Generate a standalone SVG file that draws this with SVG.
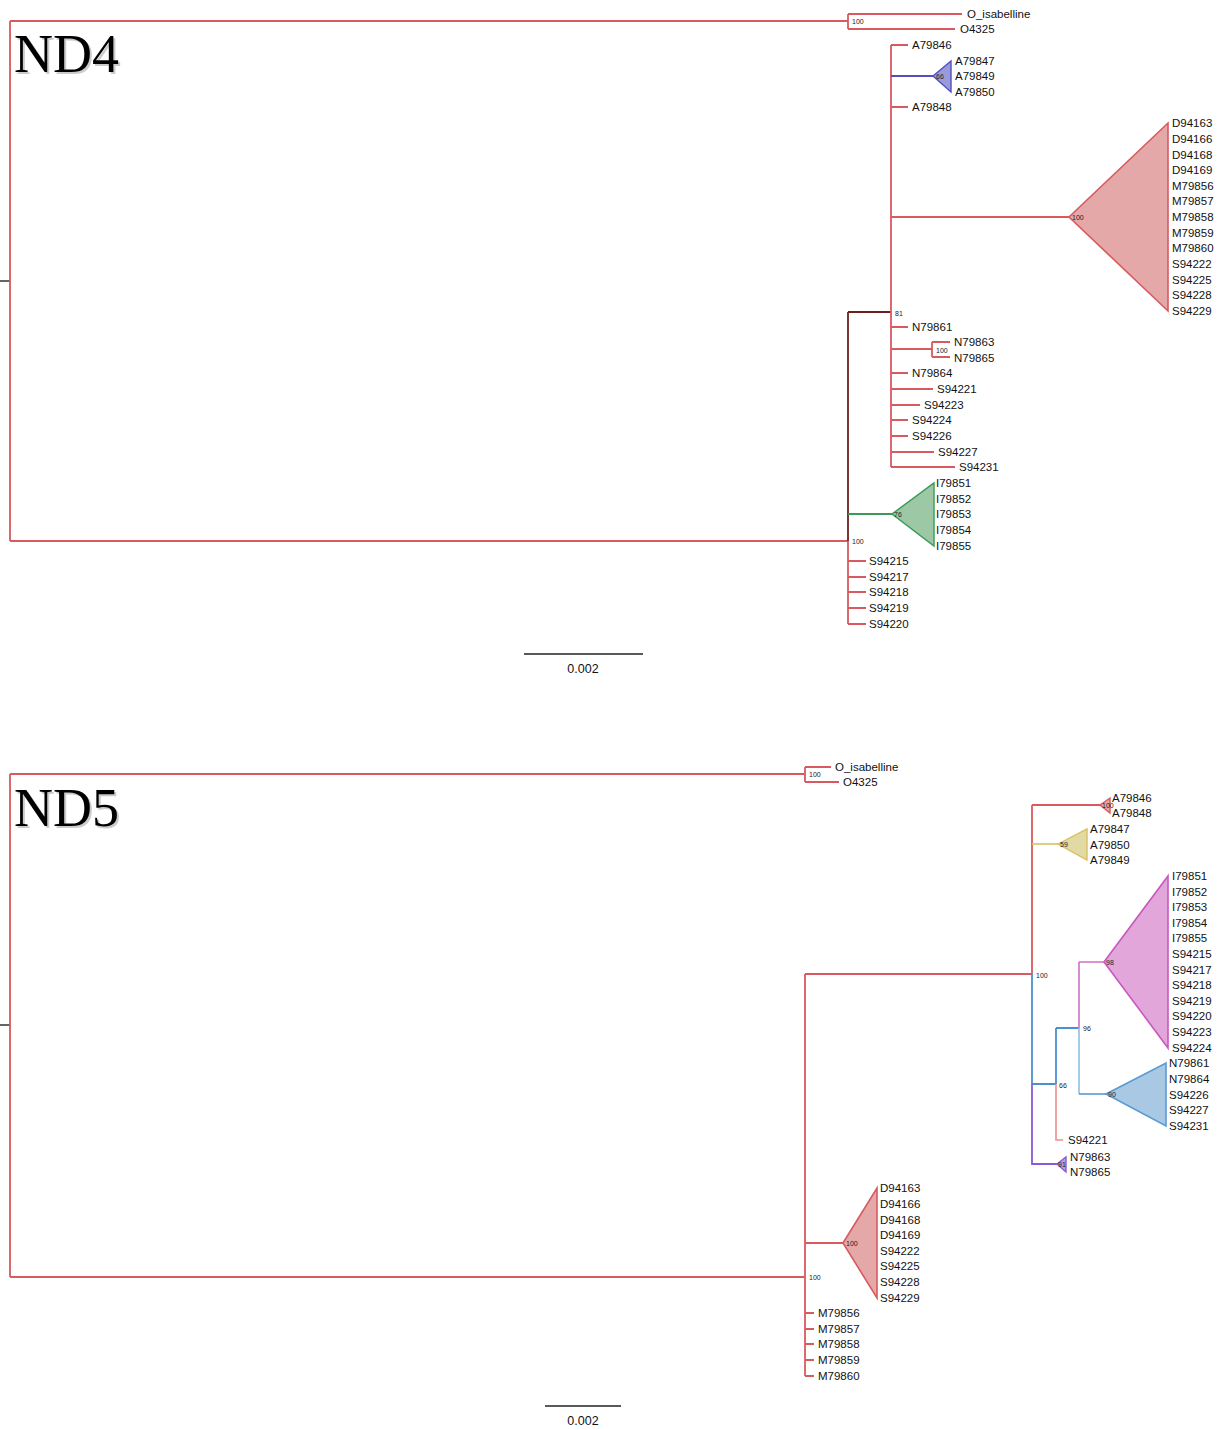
<svg xmlns="http://www.w3.org/2000/svg" width="1221" height="1430" viewBox="0 0 1221 1430">
<defs>
<style>
.e{fill:none;stroke:#d85a5e;stroke-width:1.8}
.el{fill:none;stroke:#e89090;stroke-width:1.6}
.k{fill:none;stroke:#222;stroke-width:1.4}
.t{font-family:"Liberation Sans",Arial,sans-serif;font-size:11.5px;fill:#111}
.s{font-family:"Liberation Sans",Arial,sans-serif;font-size:7px;fill:#222}
.h{font-family:"Liberation Serif","Times New Roman",serif;font-size:54px;fill:#000}
.hs{font-family:"Liberation Serif","Times New Roman",serif;font-size:54px;fill:#999;opacity:0.5}
.sc{font-family:"Liberation Sans",Arial,sans-serif;font-size:12.5px;fill:#111;text-anchor:middle}
</style>
</defs>
<rect width="1221" height="1430" fill="#fff"/>

<g id="connectors">
<!-- ND4 -->
<line class="k" x1="0" y1="281" x2="10" y2="281"/>
<path class="e" d="M10,21V541M10,21H848M10,541H848M848,14V29M848,14H962M848,29H955"/>
<path class="e" d="M848,541V624M848,561H866M848,577H866M848,592H866M848,608H866M848,624H866"/>
<path fill="none" stroke="#6e1e1e" stroke-width="1.8" d="M848,312V541M848,312H891"/>
<path fill="none" stroke="#3a9a58" stroke-width="1.8" d="M848,514H892"/>
<path class="e" d="M891,45V467M891,45H908M891,107H908M891,217H1069M891,327H908M891,349H932M932,342V357M932,342H950M932,357H950M891,373H908M891,389H933M891,405H920M891,420H908M891,436H908M891,452H934M891,467H955"/>
<path fill="none" stroke="#5050c0" stroke-width="1.8" d="M891,76H933"/>
<!-- ND5 -->
<line class="k" x1="0" y1="1025" x2="10" y2="1025"/>
<path class="e" d="M10,774V1277M10,774H805M10,1277H805M805,767V782M805,767H831M805,782H839"/>
<path class="e" d="M805,974V1376M805,974H1032M805,1243H843M805,1313H814M805,1329H814M805,1344H814M805,1360H814M805,1376H814"/>
<path class="e" d="M1032,805V974M1032,805H1100"/>
<path fill="none" stroke="#d8c060" stroke-width="1.6" d="M1032,844H1058"/>
<path fill="none" stroke="#4a8fcf" stroke-width="1.8" d="M1032,974V1084M1032,1084H1056M1056,1028V1084M1056,1028H1079"/>
<path fill="none" stroke="#8a5ad0" stroke-width="1.8" d="M1032,1084V1164H1057"/>
<path class="el" d="M1056,1084V1140H1063"/>
<path fill="none" stroke="#d070c8" stroke-width="1.6" d="M1079,962V1028M1079,962H1104"/>
<path fill="none" stroke="#8ec0e2" stroke-width="1.6" d="M1079,1028V1094"/>
<path fill="none" stroke="#5a9ad2" stroke-width="1.6" d="M1079,1094H1106"/>
<line class="k" x1="545" y1="1406" x2="621" y2="1406"/>
<line class="k" x1="524" y1="654" x2="643" y2="654"/>
</g>

<g id="titles">
<text class="hs" x="16" y="74">ND4</text>
<text class="h" x="14" y="72">ND4</text>
<text class="hs" x="16" y="828">ND5</text>
<text class="h" x="14" y="826">ND5</text>
<text class="sc" x="583" y="673">0.002</text>
<text class="sc" x="583" y="1425">0.002</text>
</g>

<!-- ND4 nodes -->
<g id="nd4-outgroup">
<text class="s" x="852" y="24">100</text>
<text class="t" x="967" y="18">O_isabelline</text>
<text class="t" x="960" y="33">O4325</text>
</g>
<g id="nd4-A79846"><text class="t" x="912" y="49">A79846</text></g>
<g id="nd4-blue">
<polygon points="933,76 951,61 951,92" fill="#9a9ad8" stroke="#5050c0" stroke-width="1.4"/>
<text class="s" x="936" y="79">66</text>
<text class="t" x="955" y="65">A79847</text>
<text class="t" x="955" y="80">A79849</text>
<text class="t" x="955" y="96">A79850</text>
</g>
<g id="nd4-A79848"><text class="t" x="912" y="111">A79848</text></g>
<g id="nd4-red">
<polygon points="1069,217 1168,123 1168,311" fill="#e4a8a8" stroke="#d85a5e" stroke-width="1.6"/>
<text class="s" x="1072" y="220">100</text>
<text class="t" x="1172" y="127">D94163</text>
<text class="t" x="1172" y="143">D94166</text>
<text class="t" x="1172" y="159">D94168</text>
<text class="t" x="1172" y="174">D94169</text>
<text class="t" x="1172" y="190">M79856</text>
<text class="t" x="1172" y="205">M79857</text>
<text class="t" x="1172" y="221">M79858</text>
<text class="t" x="1172" y="237">M79859</text>
<text class="t" x="1172" y="252">M79860</text>
<text class="t" x="1172" y="268">S94222</text>
<text class="t" x="1172" y="284">S94225</text>
<text class="t" x="1172" y="299">S94228</text>
<text class="t" x="1172" y="315">S94229</text>
</g>
<g id="nd4-n81"><text class="s" x="895" y="316">81</text></g>
<g id="nd4-N79861"><text class="t" x="912" y="331">N79861</text></g>
<g id="nd4-N798635">
<text class="s" x="936" y="353">100</text>
<text class="t" x="954" y="346">N79863</text>
<text class="t" x="954" y="362">N79865</text>
</g>
<g id="nd4-N79864"><text class="t" x="912" y="377">N79864</text></g>
<g id="nd4-S94221"><text class="t" x="937" y="393">S94221</text></g>
<g id="nd4-S94223"><text class="t" x="924" y="409">S94223</text></g>
<g id="nd4-S94224"><text class="t" x="912" y="424">S94224</text></g>
<g id="nd4-S94226"><text class="t" x="912" y="440">S94226</text></g>
<g id="nd4-S94227"><text class="t" x="938" y="456">S94227</text></g>
<g id="nd4-S94231"><text class="t" x="959" y="471">S94231</text></g>
<g id="nd4-green">
<polygon points="892,514 934,483 934,546" fill="#9cc8a6" stroke="#3a9a58" stroke-width="1.4"/>
<text class="s" x="894" y="517">76</text>
<text class="t" x="936" y="487">I79851</text>
<text class="t" x="936" y="503">I79852</text>
<text class="t" x="936" y="518">I79853</text>
<text class="t" x="936" y="534">I79854</text>
<text class="t" x="936" y="550">I79855</text>
</g>
<g id="nd4-n100"><text class="s" x="852" y="544">100</text></g>
<g id="nd4-S942xx">
<text class="t" x="869" y="565">S94215</text>
<text class="t" x="869" y="581">S94217</text>
<text class="t" x="869" y="596">S94218</text>
<text class="t" x="869" y="612">S94219</text>
<text class="t" x="869" y="628">S94220</text>
</g>

<!-- ND5 nodes -->
<g id="nd5-outgroup">
<text class="s" x="809" y="777">100</text>
<text class="t" x="835" y="771">O_isabelline</text>
<text class="t" x="843" y="786">O4325</text>
</g>
<g id="nd5-redsmall">
<polygon points="1100,805 1110,798 1110,813" fill="#e4a8a8" stroke="#d85a5e" stroke-width="1.4"/>
<text class="s" x="1102" y="808">100</text>
<text class="t" x="1112" y="802">A79846</text>
<text class="t" x="1112" y="817">A79848</text>
</g>
<g id="nd5-yellow">
<polygon points="1058,844 1087,829 1087,860" fill="#e2daa4" stroke="#d8c060" stroke-width="1.4"/>
<text class="s" x="1060" y="847">59</text>
<text class="t" x="1090" y="833">A79847</text>
<text class="t" x="1090" y="849">A79850</text>
<text class="t" x="1090" y="864">A79849</text>
</g>
<g id="nd5-n100a"><text class="s" x="1036" y="978">100</text></g>
<g id="nd5-pink">
<polygon points="1104,962 1168,876 1168,1048" fill="#e2a6da" stroke="#c858c0" stroke-width="1.6"/>
<text class="s" x="1106" y="965">98</text>
<text class="t" x="1172" y="880">I79851</text>
<text class="t" x="1172" y="896">I79852</text>
<text class="t" x="1172" y="911">I79853</text>
<text class="t" x="1172" y="927">I79854</text>
<text class="t" x="1172" y="942">I79855</text>
<text class="t" x="1172" y="958">S94215</text>
<text class="t" x="1172" y="974">S94217</text>
<text class="t" x="1172" y="989">S94218</text>
<text class="t" x="1172" y="1005">S94219</text>
<text class="t" x="1172" y="1020">S94220</text>
<text class="t" x="1172" y="1036">S94223</text>
<text class="t" x="1172" y="1052">S94224</text>
</g>
<g id="nd5-n96"><text class="s" x="1083" y="1031">96</text></g>
<g id="nd5-n66"><text class="s" x="1059" y="1088">66</text></g>
<g id="nd5-blue">
<polygon points="1106,1094 1166,1063 1166,1126" fill="#a8c8e4" stroke="#5a9ad2" stroke-width="1.6"/>
<text class="s" x="1108" y="1097">90</text>
<text class="t" x="1169" y="1067">N79861</text>
<text class="t" x="1169" y="1083">N79864</text>
<text class="t" x="1169" y="1099">S94226</text>
<text class="t" x="1169" y="1114">S94227</text>
<text class="t" x="1169" y="1130">S94231</text>
</g>
<g id="nd5-S94221"><text class="t" x="1068" y="1144">S94221</text></g>
<g id="nd5-purple">
<polygon points="1057,1164 1066,1157 1066,1172" fill="#b8a0e0" stroke="#8a5ad0" stroke-width="1.4"/>
<text class="s" x="1058" y="1167">91</text>
<text class="t" x="1070" y="1161">N79863</text>
<text class="t" x="1070" y="1176">N79865</text>
</g>
<g id="nd5-red">
<polygon points="843,1243 877,1188 877,1298" fill="#e4a8a8" stroke="#d85a5e" stroke-width="1.6"/>
<text class="s" x="846" y="1246">100</text>
<text class="t" x="880" y="1192">D94163</text>
<text class="t" x="880" y="1208">D94166</text>
<text class="t" x="880" y="1224">D94168</text>
<text class="t" x="880" y="1239">D94169</text>
<text class="t" x="880" y="1255">S94222</text>
<text class="t" x="880" y="1270">S94225</text>
<text class="t" x="880" y="1286">S94228</text>
<text class="t" x="880" y="1302">S94229</text>
</g>
<g id="nd5-n100b"><text class="s" x="809" y="1280">100</text></g>
<g id="nd5-M798xx">
<text class="t" x="818" y="1317">M79856</text>
<text class="t" x="818" y="1333">M79857</text>
<text class="t" x="818" y="1348">M79858</text>
<text class="t" x="818" y="1364">M79859</text>
<text class="t" x="818" y="1380">M79860</text>
</g>
</svg>
